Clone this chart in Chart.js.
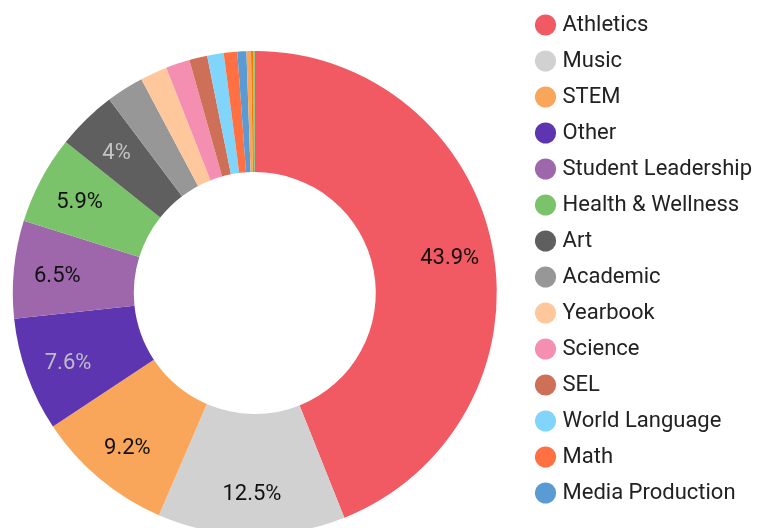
<!DOCTYPE html>
<html>
<head>
<meta charset="utf-8">
<script src="https://cdn.jsdelivr.net/npm/chart.js@4"></script>
<style>
  html, body { margin: 0; padding: 0; background: #fff; overflow: hidden; width: 761px; height: 528px; }
  #wrap { position: absolute; left: -16px; top: 0; width: 782px; height: 586px; }
</style>
</head>
<body>
<div id="wrap"><canvas id="c" width="782" height="586"></canvas></div>
<script>
const categories = ["Athletics", "Music", "STEM", "Other", "Student Leadership", "Health & Wellness", "Art", "Academic", "Yearbook", "Science", "SEL", "World Language", "Math", "Media Production", "Drama", "Debate", "Gardening"];
const shares = [43.9, 12.5, 9.2, 7.6, 6.5, 5.9, 4.0, 2.5, 1.8, 1.6, 1.2, 1.1, 0.9, 0.6, 0.3, 0.15, 0.1];
const sliceColors = ["#F15A62", "#D1D1D1", "#F9A65A", "#5E35B1", "#9E67AB", "#7AC36A", "#5F5F5F", "#979797", "#FFC89C", "#F48FB1", "#CE7058", "#81D4FA", "#FF7043", "#5A9BD4", "#F9A65A", "#F57C00", "#7AC36A"];
const labelColors = ["#111", "#111", "#111", "#bdbdc4", "#111", "#111", "#c4c4c4", "#111", "#111", "#111", "#111", "#111", "#111", "#111", "#111", "#111", "#111"];
const labelMin = 4;
const legendMin = 0.5;

const sliceLabels = {
  id: 'sliceLabels',
  afterDatasetsDraw(chart) {
    const ctx = chart.ctx;
    const meta = chart.getDatasetMeta(0);
    ctx.save();
    ctx.font = '22px Roboto';
    ctx.textAlign = 'center';
    ctx.textBaseline = 'middle';
    meta.data.forEach((arc, i) => {
      const v = shares[i];
      if (v < labelMin) return;
      const p = arc.getProps(['x', 'y', 'startAngle', 'endAngle', 'innerRadius', 'outerRadius'], true);
      const a = (p.startAngle + p.endAngle) / 2;
      const r = p.innerRadius + 0.64 * (p.outerRadius - p.innerRadius);
      ctx.fillStyle = labelColors[i];
      ctx.fillText(v + '%', p.x + Math.cos(a) * r, p.y + Math.sin(a) * r + 3);
    });
    ctx.restore();
  }
};

new Chart(document.getElementById('c'), {
  type: 'doughnut',
  data: {
    labels: categories,
    datasets: [{
      data: shares,
      backgroundColor: sliceColors,
      borderWidth: 0,
      radius: 242,
      cutout: '50%'
    }]
  },
  options: {
    responsive: false,
    animation: false,
    layout: { padding: { left: 0, right: 4, top: 0, bottom: 0 } },
    plugins: {
      tooltip: { enabled: false },
      legend: {
        position: 'right',
        align: 'start',
        labels: {
          usePointStyle: true,
          pointStyle: 'circle',
          boxWidth: 12,
          boxHeight: 15,
          padding: 14,
          color: '#222',
          font: { family: 'Roboto', size: 22 },
          filter: (item) => shares[item.index] >= legendMin
        }
      }
    }
  },
  plugins: [sliceLabels]
});
</script>
</body>
</html>
